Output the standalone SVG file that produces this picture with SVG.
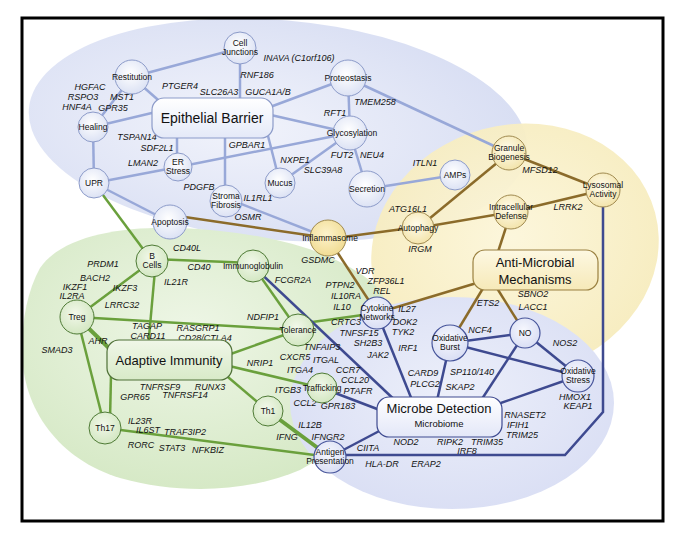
<svg xmlns="http://www.w3.org/2000/svg" width="680" height="543" viewBox="0 0 680 543">
<style>
.gene{font-family:"Liberation Sans",Arial,sans-serif;font-style:italic;font-size:9px;fill:#111;text-anchor:middle}
.lbl{font-family:"Liberation Sans",Arial,sans-serif;font-size:8.5px;fill:#111;text-anchor:middle}
.big{font-family:"Liberation Sans",Arial,sans-serif;font-size:13px;fill:#111;text-anchor:middle}
.e{stroke:#98a8d8;stroke-width:2.5;fill:none}
.b{stroke:#8b6b2a;stroke-width:2.5;fill:none}
.g{stroke:#6aa03c;stroke-width:2.5;fill:none}
.n{stroke:#3e4a90;stroke-width:2.5;fill:none}
.thick{stroke-width:4}
.ce{fill:url(#gE);stroke:#8c9bc9;stroke-width:1}
.cy{fill:url(#gY);stroke:#a08a50;stroke-width:1}
.cg{fill:url(#gG);stroke:#4e7a35;stroke-width:1}
.cn{fill:url(#gN);stroke:#46549a;stroke-width:1.2}
</style>
<defs>
<radialGradient id="gE" cx="0.45" cy="0.4" r="0.6"><stop offset="0" stop-color="#ffffff"/><stop offset="1" stop-color="#dce2f4"/></radialGradient>
<radialGradient id="gY" cx="0.45" cy="0.4" r="0.6"><stop offset="0" stop-color="#fffcec"/><stop offset="1" stop-color="#f3e4ac"/></radialGradient>
<radialGradient id="gYs" cx="0.45" cy="0.4" r="0.6"><stop offset="0" stop-color="#fdf3cc"/><stop offset="1" stop-color="#f1dc94"/></radialGradient>
<radialGradient id="gG" cx="0.45" cy="0.4" r="0.6"><stop offset="0" stop-color="#f2f8ea"/><stop offset="1" stop-color="#d3e7c2"/></radialGradient>
<radialGradient id="gN" cx="0.45" cy="0.4" r="0.6"><stop offset="0" stop-color="#f7f8fe"/><stop offset="1" stop-color="#d9def4"/></radialGradient>
<radialGradient id="bgE" cx="0.42" cy="0.5" r="0.6"><stop offset="0" stop-color="#f1f3fb"/><stop offset="1" stop-color="#d8def3"/></radialGradient>
<radialGradient id="bgY" cx="0.5" cy="0.45" r="0.6"><stop offset="0" stop-color="#fcf6da"/><stop offset="1" stop-color="#f6ebbb"/></radialGradient>
<radialGradient id="bgG" cx="0.45" cy="0.4" r="0.6"><stop offset="0" stop-color="#eef6e6"/><stop offset="1" stop-color="#d6e9c6"/></radialGradient>
<radialGradient id="bgN" cx="0.5" cy="0.45" r="0.6"><stop offset="0" stop-color="#eceffa"/><stop offset="1" stop-color="#d9def4"/></radialGradient>
<linearGradient id="boxE" x1="0" y1="0" x2="0" y2="1"><stop offset="0" stop-color="#ffffff"/><stop offset="1" stop-color="#e4e9f8"/></linearGradient>
<linearGradient id="boxY" x1="0" y1="0" x2="0" y2="1"><stop offset="0" stop-color="#fdf8e2"/><stop offset="1" stop-color="#f6e9b8"/></linearGradient>
<linearGradient id="boxG" x1="0" y1="0" x2="0" y2="1"><stop offset="0" stop-color="#f0f7e8"/><stop offset="1" stop-color="#d8eac8"/></linearGradient>
<linearGradient id="boxN" x1="0" y1="0" x2="0" y2="1"><stop offset="0" stop-color="#ffffff"/><stop offset="1" stop-color="#e3e7f8"/></linearGradient>
<clipPath id="inner"><rect x="22" y="18" width="641" height="503"/></clipPath>
</defs>
<rect x="0" y="0" width="680" height="543" fill="#ffffff"/>
<g id="regions" clip-path="url(#inner)">
<ellipse cx="278" cy="130" rx="250" ry="110" transform="rotate(5 278 130)" fill="url(#bgE)"/>
<ellipse cx="515" cy="250" rx="145" ry="125" transform="rotate(-15 515 250)" fill="url(#bgY)" opacity="0.95"/>
<path d="M40,268 C62,236 120,226 180,228 C250,231 330,245 375,285 C415,330 395,420 300,470 C250,492 180,495 120,478 C60,460 22,410 22,350 C22,318 28,290 40,268 Z" fill="url(#bgG)"/>
<ellipse cx="452" cy="403" rx="162" ry="106" fill="url(#bgN)"/>
</g>
<g id="connectors">
<path class="e" d="M132,77 L240,48"/>
<path class="e" d="M132,77 L165,106"/>
<path class="e" d="M132,77 L93,127"/>
<path class="e" d="M93,127 L156,112"/>
<path class="e" d="M93,127 L94,183"/>
<path class="e" d="M94,183 L178,167"/>
<path class="e" d="M94,183 L170,222"/>
<path class="e" d="M177,167 L177,130"/>
<path class="e" d="M240,48 L240,110"/>
<path class="e" d="M262,110 L348,78"/>
<path class="e" d="M262,113 L350,133"/>
<path class="e" d="M266,128 L280,183"/>
<path class="e" d="M225,130 L225,201"/>
<path class="e" d="M178,167 L350,133"/>
<path class="e" d="M348,78 L350,133"/>
<path class="e" d="M348,78 L509,153"/>
<path class="e" d="M350,133 L280,183"/>
<path class="e" d="M350,133 L367,189"/>
<path class="e" d="M367,189 L455,175"/>
<path class="e" d="M226,198 L328,238"/>
<path class="b" d="M178,216 L328,238"/>
<path class="b" d="M328,239 L418,227"/>
<path class="b" d="M328,238 L377,313"/>
<path class="b" d="M418,228 L509,153"/>
<path class="b" d="M418,228 L511,212"/>
<path class="b" d="M509,153 L603,190"/>
<path class="b" d="M511,212 L603,190"/>
<path class="b" d="M511,212 L497,255"/>
<path class="b" d="M480,282 L377,313"/>
<path class="b" d="M485,285 L450,343"/>
<path class="b" d="M495,285 L525,333"/>
<path class="g" d="M94,183 L152,261"/>
<path class="g" d="M152,259 L253,263"/>
<path class="g" d="M152,261 L77,317"/>
<path class="g" d="M155,270 L148,348"/>
<path class="g" d="M77,317 L298,330"/>
<path class="g thick" d="M77,317 L116,355"/>
<path class="g" d="M77,317 L105,428"/>
<path class="g" d="M253,266 L298,330"/>
<path class="g" d="M225,356 L298,330"/>
<path class="g" d="M225,365 L322,388"/>
<path class="g" d="M222,372 L268,411"/>
<path class="g" d="M111,375 L110,420"/>
<path class="g" d="M105,428 L330,457"/>
<path class="g thick" d="M268,411 L330,457"/>
<path class="g" d="M298,324 L377,313"/>
<path class="n" d="M253,266 L400,405"/>
<path class="n" d="M377,313 L414,405"/>
<path class="n" d="M450,343 L436,405"/>
<path class="n" d="M525,333 L478,405"/>
<path class="n" d="M450,343 L525,333"/>
<path class="n" d="M450,343 L578,376"/>
<path class="n" d="M525,333 L578,376"/>
<path class="n" d="M495,405 L578,376"/>
<path class="n" d="M322,388 L385,412"/>
<path class="n" d="M330,457 L385,428"/>
<path class="n" d="M603,190 L603,412 L565,455 L330,455"/>
</g>
<g id="labels">
<text class="gene" x="90" y="90">HGFAC</text>
<text class="gene" x="180" y="89">PTGER4</text>
<text class="gene" x="83" y="100">RSPO3</text>
<text class="gene" x="122" y="100">MST1</text>
<text class="gene" x="77" y="110">HNF4A</text>
<text class="gene" x="113" y="111">GPR35</text>
<text class="gene" x="299" y="61">INAVA (C1orf106)</text>
<text class="gene" x="257" y="78">RNF186</text>
<text class="gene" x="219" y="95">SLC26A3</text>
<text class="gene" x="268" y="95">GUCA1A/B</text>
<text class="gene" x="137" y="140">TSPAN14</text>
<text class="gene" x="157" y="151">SDF2L1</text>
<text class="gene" x="143" y="166">LMAN2</text>
<text class="gene" x="247" y="148">GPBAR1</text>
<text class="gene" x="295" y="163">NXPE1</text>
<text class="gene" x="335" y="116">RFT1</text>
<text class="gene" x="375" y="105">TMEM258</text>
<text class="gene" x="342" y="158">FUT2</text>
<text class="gene" x="372" y="158">NEU4</text>
<text class="gene" x="323" y="173">SLC39A8</text>
<text class="gene" x="425" y="166">ITLN1</text>
<text class="gene" x="199" y="190">PDGFB</text>
<text class="gene" x="258" y="201">IL1RL1</text>
<text class="gene" x="248" y="220">OSMR</text>
<text class="gene" x="318" y="263">GSDMC</text>
<text class="gene" x="408" y="212">ATG16L1</text>
<text class="gene" x="420" y="252">IRGM</text>
<text class="gene" x="540" y="173">MFSD12</text>
<text class="gene" x="568" y="210">LRRK2</text>
<text class="gene" x="365" y="274">VDR</text>
<text class="gene" x="386" y="284">ZFP36L1</text>
<text class="gene" x="382" y="294">REL</text>
<text class="gene" x="340" y="288">PTPN2</text>
<text class="gene" x="346" y="299">IL10RA</text>
<text class="gene" x="342" y="310">IL10</text>
<text class="gene" x="488" y="306">ETS2</text>
<text class="gene" x="533" y="297">SBNO2</text>
<text class="gene" x="533" y="310">LACC1</text>
<text class="gene" x="346" y="325">CRTC3</text>
<text class="gene" x="407" y="312">IL27</text>
<text class="gene" x="405" y="325">DOK2</text>
<text class="gene" x="403" y="335">TYK2</text>
<text class="gene" x="359" y="336">TNFSF15</text>
<text class="gene" x="368" y="346">SH2B3</text>
<text class="gene" x="408" y="351">IRF1</text>
<text class="gene" x="378" y="358">JAK2</text>
<text class="gene" x="480" y="333">NCF4</text>
<text class="gene" x="565" y="346">NOS2</text>
<text class="gene" x="187" y="251">CD40L</text>
<text class="gene" x="199" y="270">CD40</text>
<text class="gene" x="176" y="285">IL21R</text>
<text class="gene" x="293" y="283">FCGR2A</text>
<text class="gene" x="103" y="267">PRDM1</text>
<text class="gene" x="95" y="281">BACH2</text>
<text class="gene" x="75" y="290">IKZF1</text>
<text class="gene" x="72" y="299">IL2RA</text>
<text class="gene" x="125" y="291">IKZF3</text>
<text class="gene" x="122" y="308">LRRC32</text>
<text class="gene" x="147" y="329">TAGAP</text>
<text class="gene" x="148" y="339">CARD11</text>
<text class="gene" x="98" y="344">AHR</text>
<text class="gene" x="57" y="353">SMAD3</text>
<text class="gene" x="198" y="331">RASGRP1</text>
<text class="gene" x="205" y="341">CD28/CTLA4</text>
<text class="gene" x="263" y="320">NDFIP1</text>
<text class="gene" x="322" y="350">TNFAIP3</text>
<text class="gene" x="295" y="360">CXCR5</text>
<text class="gene" x="326" y="363">ITGAL</text>
<text class="gene" x="300" y="373">ITGA4</text>
<text class="gene" x="348" y="373">CCR7</text>
<text class="gene" x="355" y="383">CCL20</text>
<text class="gene" x="358" y="394">PTAFR</text>
<text class="gene" x="260" y="366">NRIP1</text>
<text class="gene" x="288" y="393">ITGB3</text>
<text class="gene" x="305" y="406">CCL2</text>
<text class="gene" x="338" y="409">GPR183</text>
<text class="gene" x="210" y="390">RUNX3</text>
<text class="gene" x="160" y="390">TNFRSF9</text>
<text class="gene" x="185" y="398">TNFRSF14</text>
<text class="gene" x="135" y="400">GPR65</text>
<text class="gene" x="140" y="424">IL23R</text>
<text class="gene" x="148" y="433">IL6ST</text>
<text class="gene" x="185" y="435">TRAF3IP2</text>
<text class="gene" x="141" y="448">RORC</text>
<text class="gene" x="172" y="451">STAT3</text>
<text class="gene" x="208" y="453">NFKBIZ</text>
<text class="gene" x="310" y="428">IL12B</text>
<text class="gene" x="287" y="440">IFNG</text>
<text class="gene" x="328" y="440">IFNGR2</text>
<text class="gene" x="423" y="376">CARD9</text>
<text class="gene" x="425" y="387">PLCG2</text>
<text class="gene" x="472" y="375">SP110/140</text>
<text class="gene" x="460" y="390">SKAP2</text>
<text class="gene" x="525" y="418">RNASET2</text>
<text class="gene" x="518" y="428">IFIH1</text>
<text class="gene" x="522" y="438">TRIM25</text>
<text class="gene" x="575" y="400">HMOX1</text>
<text class="gene" x="578" y="409">KEAP1</text>
<text class="gene" x="406" y="445">NOD2</text>
<text class="gene" x="450" y="445">RIPK2</text>
<text class="gene" x="487" y="445">TRIM35</text>
<text class="gene" x="467" y="454">IRF8</text>
<text class="gene" x="368" y="451">CIITA</text>
<text class="gene" x="382" y="467">HLA-DR</text>
<text class="gene" x="426" y="467">ERAP2</text>
</g>
<g id="epithelial-barrier"><rect x="152" y="98" width="121" height="40" rx="12" fill="url(#boxE)" stroke="#8c9bc9" stroke-width="1.2"/><text class="big" x="212" y="123" style="font-size:14px">Epithelial Barrier</text></g>
<g id="anti-microbial"><rect x="473" y="250" width="125" height="40" rx="12" fill="url(#boxY)" stroke="#9a8040" stroke-width="1.2"/><text class="big" x="535" y="267">Anti-Microbial</text><text class="big" x="535" y="284">Mechanisms</text></g>
<g id="adaptive-immunity"><rect x="107" y="340" width="125" height="40" rx="12" fill="url(#boxG)" stroke="#4e7036" stroke-width="1.2"/><text class="big" x="169" y="365">Adaptive Immunity</text></g>
<g id="microbe-detection"><rect x="377" y="397" width="125" height="40" rx="12" fill="url(#boxN)" stroke="#3e4a90" stroke-width="1.2"/><text class="big" x="439" y="413">Microbe Detection</text><text class="lbl" x="439" y="427" style="font-size:9.5px">Microbiome</text></g>
<g id="cell-junctions"><circle class="ce" cx="240" cy="48" r="16"/><text class="lbl" x="240" y="46">Cell</text><text class="lbl" x="240" y="55">Junctions</text></g>
<g id="restitution"><circle class="ce" cx="132" cy="77" r="17"/><text class="lbl" x="132" y="80">Restitution</text></g>
<g id="healing"><circle class="ce" cx="93" cy="127" r="15"/><text class="lbl" x="93" y="130">Healing</text></g>
<g id="upr"><circle class="ce" cx="94" cy="183" r="15"/><text class="lbl" x="94" y="186">UPR</text></g>
<g id="er-stress"><circle class="ce" cx="178" cy="167" r="14"/><text class="lbl" x="178" y="165">ER</text><text class="lbl" x="178" y="174">Stress</text></g>
<g id="proteostasis"><circle class="ce" cx="348" cy="78" r="18"/><text class="lbl" x="348" y="81">Proteostasis</text></g>
<g id="glycosylation"><circle class="ce" cx="350" cy="133" r="17"/><text class="lbl" x="352" y="136">Glycosylation</text></g>
<g id="mucus"><circle class="ce" cx="280" cy="183" r="15"/><text class="lbl" x="280" y="186">Mucus</text></g>
<g id="secretion"><circle class="ce" cx="367" cy="189" r="18"/><text class="lbl" x="367" y="192">Secretion</text></g>
<g id="amps"><circle class="ce" cx="455" cy="175" r="15"/><text class="lbl" x="455" y="178">AMPs</text></g>
<g id="stroma-fibrosis"><circle class="ce" cx="226" cy="201" r="16"/><text class="lbl" x="226" y="199">Stroma</text><text class="lbl" x="226" y="208">Fibrosis</text></g>
<g id="apoptosis"><circle class="ce" cx="170" cy="222" r="17"/><text class="lbl" x="170" y="225">Apoptosis</text></g>
<g id="inflammasome"><circle cx="328" cy="238" r="18" fill="url(#gYs)" stroke="#a08a50" stroke-width="1"/><text class="lbl" x="330" y="241">Inflammasome</text></g>
<g id="autophagy"><circle class="cy" cx="418" cy="228" r="16"/><text class="lbl" x="418" y="231">Autophagy</text></g>
<g id="intracellular-defense"><circle class="cy" cx="511" cy="212" r="17"/><text class="lbl" x="511" y="210">Intracellular</text><text class="lbl" x="511" y="219">Defense</text></g>
<g id="granule-biogenesis"><circle class="cy" cx="509" cy="153" r="17"/><text class="lbl" x="509" y="151">Granule</text><text class="lbl" x="509" y="160">Biogenesis</text></g>
<g id="lysosomal-activity"><circle class="cy" cx="603" cy="190" r="17"/><text class="lbl" x="603" y="188">Lysosomal</text><text class="lbl" x="603" y="197">Activity</text></g>
<g id="b-cells"><circle class="cg" cx="152" cy="261" r="16"/><text class="lbl" x="152" y="259">B</text><text class="lbl" x="152" y="268">Cells</text></g>
<g id="immunoglobulin"><circle class="cg" cx="253" cy="266" r="16"/><text class="lbl" x="253" y="269">Immunoglobulin</text></g>
<g id="treg"><circle class="cg" cx="77" cy="317" r="17"/><text class="lbl" x="77" y="320">Treg</text></g>
<g id="tolerance"><circle class="cg" cx="298" cy="330" r="16"/><text class="lbl" x="298" y="333">Tolerance</text></g>
<g id="th17"><circle class="cg" cx="105" cy="428" r="16"/><text class="lbl" x="105" y="431">Th17</text></g>
<g id="th1"><circle class="cg" cx="268" cy="411" r="15"/><text class="lbl" x="268" y="414">Th1</text></g>
<g id="trafficking"><circle class="cg" cx="322" cy="388" r="15"/><text class="lbl" x="322" y="391">Trafficking</text></g>
<g id="antigen-presentation"><circle class="cn" cx="330" cy="457" r="16"/><text class="lbl" x="330" y="455">Antigen</text><text class="lbl" x="330" y="464">Presentation</text></g>
<g id="cytokine-networks"><circle class="cn" cx="377" cy="313" r="16"/><text class="lbl" x="377" y="311">Cytokine</text><text class="lbl" x="377" y="320">Networks</text></g>
<g id="oxidative-burst"><circle class="cn" cx="450" cy="343" r="18"/><text class="lbl" x="450" y="341">Oxidative</text><text class="lbl" x="450" y="350">Burst</text></g>
<g id="no"><circle class="cn" cx="525" cy="333" r="15"/><text class="lbl" x="525" y="336">NO</text></g>
<g id="oxidative-stress"><circle class="cn" cx="578" cy="376" r="16"/><text class="lbl" x="578" y="374">Oxidative</text><text class="lbl" x="578" y="383">Stress</text></g>
<rect id="frame" x="22" y="18" width="641" height="503" fill="none" stroke="#000" stroke-width="3"/>
</svg>
